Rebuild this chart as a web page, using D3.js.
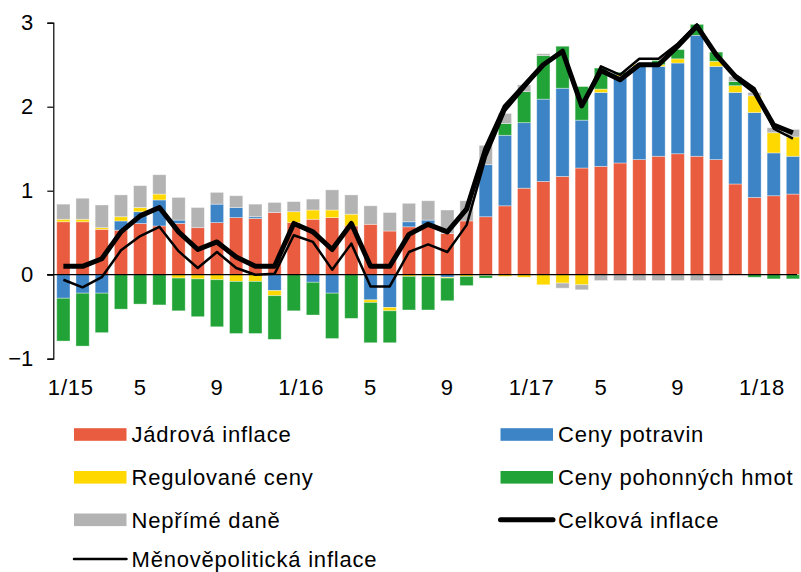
<!DOCTYPE html>
<html lang="cs">
<head>
<meta charset="UTF-8">
<title>Inflace</title>
<script src="https://cdn.jsdelivr.net/npm/d3@7"></script>
<style>
  body { margin: 0; background: #fff; }
  text { font-family: Arial, "Liberation Sans", sans-serif; fill: #000; }
</style>
</head>
<body>
<svg width="801" height="572"></svg>
<script>

    // months 1/2015 - 3/2018
    var months = ["1/15","2","3","4","5","6","7","8","9","10","11","12",
                  "1/16","2","3","4","5","6","7","8","9","10","11","12",
                  "1/17","2","3","4","5","6","7","8","9","10","11","12",
                  "1/18","2","3"];

    // contributions (p.b.)
    var core =      [0.63,0.63,0.54,0.53,0.61,0.58,0.61,0.56,0.62,0.68,0.67,0.74,
                     0.62,0.66,0.68,0.58,0.60,0.52,0.57,0.60,0.49,0.64,0.69,0.82,
                     1.03,1.11,1.17,1.27,1.29,1.33,1.37,1.41,1.44,1.41,1.37,1.08,
                     0.92,0.94,0.96];
    var food =      [-0.28,-0.22,-0.22,0.11,0.14,0.31,0.04,0.00,0.22,0.12,0.02,-0.19,
                     0.00,-0.09,-0.22,0.00,-0.30,-0.39,0.06,0.05,-0.03,0.00,0.62,0.84,
                     0.78,0.98,1.05,0.57,0.88,1.03,1.11,1.07,1.08,1.44,1.11,1.09,
                     1.01,0.51,0.45];
    var regulated = [0.03,0.03,0.02,0.05,0.05,0.07,-0.04,-0.05,-0.06,-0.08,-0.08,-0.06,
                     0.13,0.11,0.09,0.14,-0.03,-0.04,-0.02,-0.02,-0.01,-0.02,-0.01,-0.02,
                     -0.03,-0.12,-0.10,-0.12,0.04,0.02,0.02,0.02,0.05,0.00,0.06,0.08,
                     0.20,0.24,0.23];
    var fuel =      [-0.51,-0.63,-0.47,-0.41,-0.35,-0.36,-0.39,-0.45,-0.56,-0.62,-0.62,-0.52,
                     -0.43,-0.39,-0.54,-0.52,-0.48,-0.38,-0.40,-0.40,-0.27,-0.11,-0.03,0.14,
                     0.37,0.52,0.50,0.40,0.25,0.03,0.00,0.05,0.11,0.13,0.11,0.05,
                     -0.03,-0.05,-0.05];
    var taxes =     [0.18,0.25,0.27,0.26,0.26,0.23,0.27,0.24,0.14,0.14,0.15,0.12,
                     0.12,0.13,0.24,0.23,0.22,0.22,0.22,0.23,0.28,0.24,0.23,0.12,
                     0.08,0.02,-0.06,-0.06,-0.07,-0.07,-0.07,-0.07,-0.07,-0.07,-0.07,0.06,
                     0.04,0.06,0.09];

    // y/y, %
    var headline =  [0.10,0.10,0.19,0.51,0.70,0.80,0.51,0.30,0.39,0.21,0.10,0.10,
                     0.61,0.51,0.30,0.61,0.10,0.10,0.48,0.60,0.51,0.78,1.50,2.00,
                     2.25,2.50,2.66,2.01,2.43,2.32,2.50,2.50,2.72,2.96,2.62,2.36,
                     2.18,1.78,1.69];
    var monetary =  [-0.06,-0.15,-0.03,0.29,0.46,0.57,0.28,0.08,0.27,0.08,0.00,0.01,
                     0.47,0.39,0.06,0.37,-0.14,-0.14,0.27,0.36,0.27,0.59,1.40,1.95,
                     2.22,2.50,2.65,2.01,2.48,2.38,2.57,2.57,2.75,2.98,2.62,2.38,
                     2.22,1.74,1.62];

    var keys = ["core", "food", "regulated", "fuel", "taxes"];
    var names = {
        core: "Jádrová inflace",
        food: "Ceny potravin",
        regulated: "Regulované ceny",
        fuel: "Ceny pohonných hmot",
        taxes: "Nepřímé daně"
    };
    var colors = {
        core: "#e95c3f",
        food: "#3d84c6",
        regulated: "#ffd800",
        fuel: "#22a337",
        taxes: "#b3b3b3"
    };

    var rows = months.map(function (m, i) {
        return {i: i, core: core[i], food: food[i], regulated: regulated[i],
                fuel: fuel[i], taxes: taxes[i]};
    });

    var svg = d3.select("svg");

    var x = d3.scaleBand()
        .domain(d3.range(months.length))
        .range([53.3, 803])
        .paddingInner(0.31)
        .paddingOuter(0.18);

    var y = d3.scaleLinear()
        .domain([-1, 3])
        .range([358.7, 22.7]);

    var series = d3.stack()
        .keys(keys)
        .offset(d3.stackOffsetDiverging)(rows);

    // bars
    svg.append("g")
        .selectAll("g")
        .data(series)
        .enter().append("g")
        .attr("fill", function (d) { return colors[d.key]; })
        .selectAll("rect")
        .data(function (d) { return d; })
        .enter().append("rect")
        .attr("x", function (d) { return x(d.data.i); })
        .attr("width", x.bandwidth())
        .attr("y", function (d) { return y(Math.max(d[0], d[1])); })
        .attr("height", function (d) { return Math.abs(y(d[0]) - y(d[1])); })
        .attr("stroke", "#fff")
        .attr("stroke-opacity", 0.45)
        .attr("stroke-width", 0.8);

    // zero line
    svg.append("line")
        .attr("x1", 47).attr("x2", 797)
        .attr("y1", y(0)).attr("y2", y(0))
        .attr("stroke", "#000")
        .attr("stroke-width", 1.2);

    // lines
    var line = d3.line()
        .x(function (d, i) { return x(i) + x.bandwidth() / 2; })
        .y(function (d) { return y(d); });

    svg.append("path")
        .datum(headline)
        .attr("fill", "none")
        .attr("stroke", "#000")
        .attr("stroke-width", 5)
        .attr("stroke-linejoin", "round")
        .attr("d", line);

    svg.append("path")
        .datum(monetary)
        .attr("fill", "none")
        .attr("stroke", "#000")
        .attr("stroke-width", 2.5)
        .attr("stroke-linejoin", "round")
        .attr("d", line);

    // y axis
    var yAxis = svg.append("g")
        .attr("transform", "translate(53.3,0)")
        .call(d3.axisLeft(y).tickValues([-1, 0, 1, 2, 3]).tickSize(6).tickPadding(14)
            .tickFormat(d3.format("d")));
    yAxis.selectAll("text").style("font-size", "22px").attr("font-family", null);
    yAxis.selectAll("line, path").attr("stroke", "#000").attr("stroke-width", 1.2);

    // x labels
    var xAxis = svg.append("g")
        .attr("transform", "translate(0,379)")
        .call(d3.axisBottom(x)
            .tickValues(d3.range(0, months.length, 4))
            .tickFormat(function (i) { return months[i]; })
            .tickSize(0).tickPadding(0));
    xAxis.select(".domain").remove();
    xAxis.selectAll("text")
        .style("font-size", "22px")
        .style("letter-spacing", "0.8px")
        .attr("font-family", null)
        .attr("dx", function (i) { return months[i].indexOf("/") > 0 ? 7.5 : 0; });

    // legend
    var legendItems = [
        {label: names.core, type: "rect", color: colors.core, col: 0, row: 0},
        {label: names.food, type: "rect", color: colors.food, col: 1, row: 0},
        {label: names.regulated, type: "rect", color: colors.regulated, col: 0, row: 1},
        {label: names.fuel, type: "rect", color: colors.fuel, col: 1, row: 1},
        {label: names.taxes, type: "rect", color: colors.taxes, col: 0, row: 2},
        {label: "Celková inflace", type: "line", width: 5, col: 1, row: 2},
        {label: "Měnověpolitická inflace", type: "line", width: 2.5, col: 0, row: 3}
    ];
    var colX = [74, 500.5];
    var rowY = [434.5, 477.3, 519.8, 559];

    var leg = svg.append("g").selectAll("g")
        .data(legendItems)
        .enter().append("g")
        .attr("transform", function (d) {
            return "translate(" + colX[d.col] + "," + rowY[d.row] + ")";
        });

    leg.filter(function (d) { return d.type === "rect"; })
        .append("rect")
        .attr("x", 0).attr("y", -6.3)
        .attr("width", 52.5).attr("height", 12.6)
        .attr("fill", function (d) { return d.color; });

    leg.filter(function (d) { return d.type === "line"; })
        .append("line")
        .attr("x1", 0).attr("x2", 52.5)
        .attr("y1", 0).attr("y2", 0)
        .attr("stroke", "#000")
        .attr("stroke-linecap", "round")
        .attr("stroke-width", function (d) { return d.width; });

    leg.append("text")
        .attr("x", 57.5)
        .attr("y", 7.8)
        .style("font-size", "22px")
        .style("letter-spacing", "0.8px")
        .text(function (d) { return d.label; });

</script>
</body>
</html>
